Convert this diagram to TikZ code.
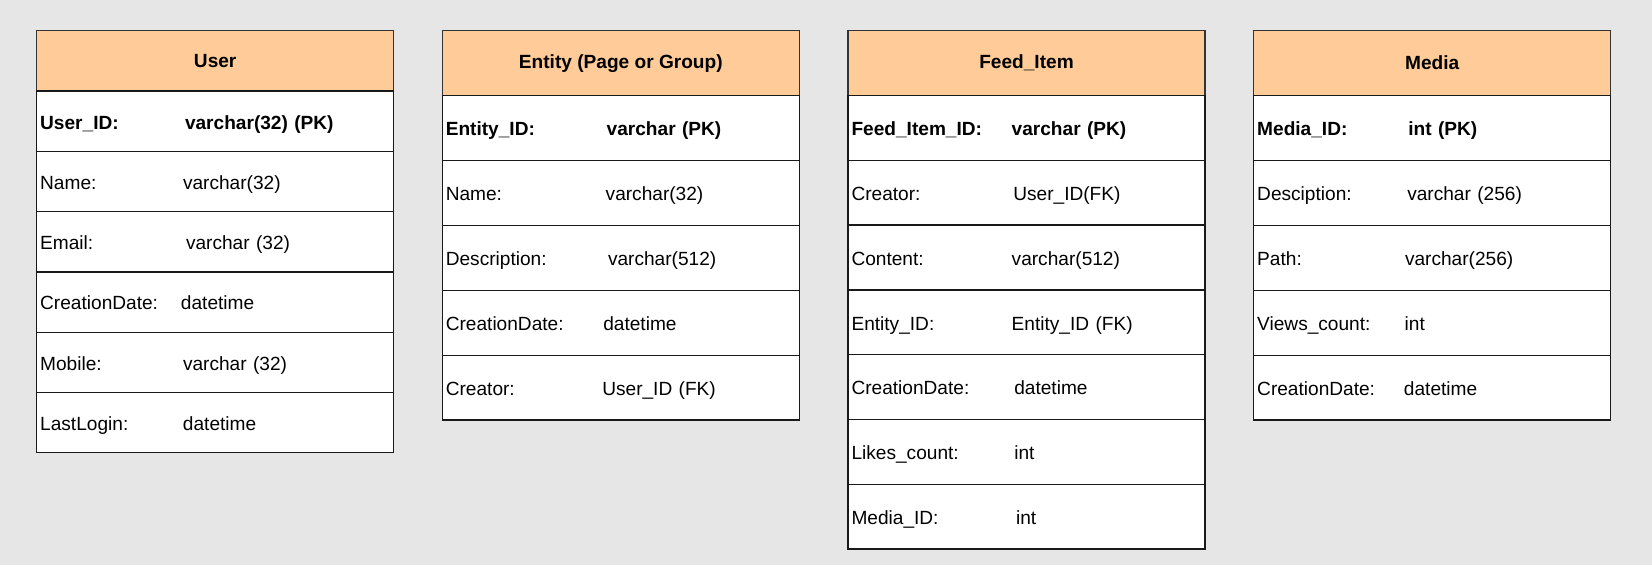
\documentclass[tikz,border=0pt]{standalone}
\usepackage{fontspec}
\setmainfont{Liberation Sans}
\usetikzlibrary{positioning}

\definecolor{headfill}{HTML}{FFCC99}
\definecolor{canvas}{HTML}{E6E6E6}

% label column of fixed width, then the type
\newcommand{\fieldrow}[3]{\makebox[#1][l]{#2}#3}

\begin{document}
\begin{tikzpicture}[
  x=0.5pt, y=-0.5pt,
  node distance=0pt,
  tablehead/.style={rectangle, draw=black!80, fill=headfill, line width=0.65pt, outer sep=0pt,
    minimum width=178.5pt, font=\fontsize{9.55}{11}\selectfont\bfseries},
  tablerow/.style={rectangle, draw=black!90, fill=white, line width=0.65pt, outer sep=0pt,
    inner xsep=1.75pt, minimum width=178.5pt, text width=175pt, align=left,
    text height=7.9pt, text depth=0pt, font=\fontsize{9.55}{11}\selectfont},
  keyrow/.style={tablerow, font=\fontsize{9.55}{11}\selectfont\bfseries}
]
  \fill[canvas] (0,0) rectangle (1652,565);

  % User
  \begin{scope}[every node/.append style={minimum height=30.15pt}]
    \node (user) [tablehead, anchor=north west] at (36.7,30.7) { User };
    \node (userid) [below=of user, keyrow] { \fieldrow{72.4pt}{User\_ID:}{varchar(32) (PK)} };
    \node (username) [below=of userid, tablerow] { \fieldrow{71.4pt}{Name:}{varchar(32)} };
    \node (useremail) [below=of username, tablerow] { \fieldrow{72.9pt}{Email:}{varchar (32)} };
    \node (usercreated) [below=of useremail, tablerow] { \fieldrow{70.4pt}{CreationDate:}{datetime} };
    \node (usermobile) [below=of usercreated, tablerow] { \fieldrow{71.4pt}{Mobile:}{varchar (32)} };
    \node (userlogin) [below=of usermobile, tablerow] { \fieldrow{71.4pt}{LastLogin:}{datetime} };
  \end{scope}

  % Entity
  \begin{scope}[every node/.append style={minimum height=32.45pt}]
    \node (entity) [tablehead, anchor=north west] at (442.3,30.7) { Entity (Page or Group) };
    \node (entityid) [below=of entity, keyrow] { \fieldrow{80.45pt}{Entity\_ID:}{varchar (PK)} };
    \node (entityname) [below=of entityid, tablerow] { \fieldrow{79.95pt}{Name:}{varchar(32)} };
    \node (entitydesc) [below=of entityname, tablerow] { \fieldrow{81.1pt}{Description:}{varchar(512)} };
    \node (entitycreated) [below=of entitydesc, tablerow] { \fieldrow{78.75pt}{CreationDate:}{datetime} };
    \node (entitycreator) [below=of entitycreated, tablerow] { \fieldrow{78.25pt}{Creator:}{User\_ID (FK)} };
  \end{scope}

  % Feed_Item
  \begin{scope}[every node/.append style={minimum height=32.4pt}]
    \node (feed) [tablehead, anchor=north west] at (848,30.7) { Feed\_Item };
    \node (feedid) [below=of feed, keyrow] { \fieldrow{80.1pt}{Feed\_Item\_ID:}{varchar (PK)} };
    \node (feedcreator) [below=of feedid, tablerow] { \fieldrow{80.9pt}{Creator:}{User\_ID(FK)} };
    \node (feedcontent) [below=of feedcreator, tablerow] { \fieldrow{80.1pt}{Content:}{varchar(512)} };
    \node (feedentity) [below=of feedcontent, tablerow] { \fieldrow{80.1pt}{Entity\_ID:}{Entity\_ID (FK)} };
    \node (feedcreated) [below=of feedentity, tablerow] { \fieldrow{81.4pt}{CreationDate:}{datetime} };
    \node (feedlikes) [below=of feedcreated, tablerow] { \fieldrow{81.4pt}{Likes\_count:}{int} };
    \node (feedmedia) [below=of feedlikes, tablerow] { \fieldrow{82.25pt}{Media\_ID:}{int} };
  \end{scope}

  % Media
  \begin{scope}[every node/.append style={minimum height=32.45pt}]
    \node (media) [tablehead, anchor=north west] at (1253.7,30.7) { Media };
    \node (mediaid) [below=of media, keyrow] { \fieldrow{75.55pt}{Media\_ID:}{int (PK)} };
    \node (mediadesc) [below=of mediaid, tablerow] { \fieldrow{75.05pt}{Desciption:}{varchar (256)} };
    \node (mediapath) [below=of mediadesc, tablerow] { \fieldrow{73.9pt}{Path:}{varchar(256)} };
    \node (mediaviews) [below=of mediapath, tablerow] { \fieldrow{73.75pt}{Views\_count:}{int} };
    \node (mediacreated) [below=of mediaviews, tablerow] { \fieldrow{73.4pt}{CreationDate:}{datetime} };
  \end{scope}
\end{tikzpicture}
\end{document}
